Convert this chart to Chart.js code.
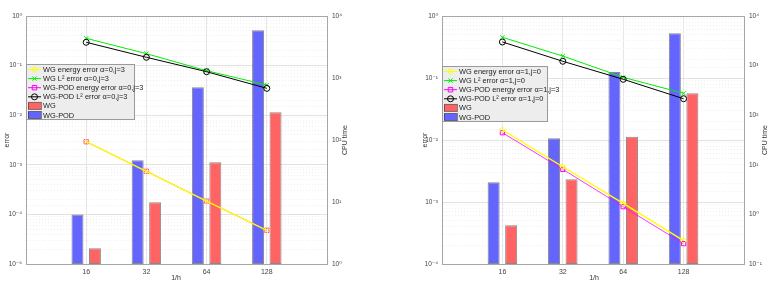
<!DOCTYPE html>
<html>
<head>
<meta charset="utf-8">
<script src="https://cdn.jsdelivr.net/npm/chart.js@4"></script>
<style>
  body { margin: 0; background: #fff; }
  #wrap { position: relative; width: 778px; height: 291px; }
  canvas { position: absolute; top: 0; }
</style>
</head>
<body>
<div id="wrap">
  <canvas id="c1" width="389" height="291" style="left:0"></canvas>
  <canvas id="c2" width="389" height="291" style="left:389px"></canvas>
</div>
<script>
// categories (1/h)
const xLabels = ['16', '32', '64', '128'];

// left panel, alpha=0
const a0WgEnergy = [0.00292, 0.00074, 0.000186, 0.0000478];
const a0WgL2 = [0.355, 0.174, 0.0789, 0.0406];
const a0PodEnergy = [0.00292, 0.00074, 0.000186, 0.0000478];
const a0PodL2 = [0.295, 0.147, 0.0753, 0.0348];
const a0CpuWg = [1.79, 9.9, 43.7, 280];
const a0CpuPod = [6.3, 47, 708, 5880];
const a0Labels = ['WG energy error \u03b1=0,j=3', 'WG L\u00b2 error \u03b1=0,j=3',
  'WG-POD energy error \u03b1=0,j=3', 'WG-POD L\u00b2 error \u03b1=0,j=3', 'WG', 'WG-POD'];

// right panel, alpha=1
const a1WgEnergy = [0.0145, 0.0037, 0.00095, 0.000238];
const a1WgL2 = [0.453, 0.226, 0.1026, 0.0566];
const a1PodEnergy = [0.0131, 0.00336, 0.00084, 0.000213];
const a1PodL2 = [0.381, 0.186, 0.0953, 0.0463];
const a1CpuWg = [0.603, 5.1, 36.9, 276];
const a1CpuPod = [4.44, 34.2, 743, 4477];
const a1Labels = ['WG energy error \u03b1=1,j=0', 'WG L\u00b2 error \u03b1=1,j=0',
  'WG-POD energy error \u03b1=1,j=3', 'WG-POD L\u00b2 error \u03b1=1,j=0', 'WG', 'WG-POD'];

const FONT = '"Liberation Sans", Arial, "DejaVu Sans", sans-serif';
const SUP = { '0': '\u2070', '1': '\u00b9', '2': '\u00b2', '3': '\u00b3', '4': '\u2074', '5': '\u2075', '-': '\u207b' };

const isDecade = v => Math.abs(Math.log10(v) - Math.round(Math.log10(v))) < 1e-6;
const decLabel = v => isDecade(v) ? '10' + String(Math.round(Math.log10(v))).split('').map(c => SUP[c]).join('') : '';
const pad = arr => [null, ...arr, null];

// draws marker shapes for the legend
function marker(ctx, style, x, y, r) {
  ctx.beginPath();
  if (style === 'rectRot') {
    ctx.moveTo(x, y - r); ctx.lineTo(x + r, y); ctx.lineTo(x, y + r); ctx.lineTo(x - r, y); ctx.closePath();
  } else if (style === 'crossRot') {
    const d = r * 0.7;
    ctx.moveTo(x - d, y - d); ctx.lineTo(x + d, y + d); ctx.moveTo(x + d, y - d); ctx.lineTo(x - d, y + d);
  } else if (style === 'rect') {
    const d = r * 0.75;
    ctx.rect(x - d, y - d, 2 * d, 2 * d);
  } else {
    ctx.arc(x, y, r, 0, Math.PI * 2);
  }
  ctx.stroke();
}

const mlPlugin = {
  id: 'mlDecor',
  afterDraw(chart, args, o) {
    const ctx = chart.ctx;
    const a = chart.chartArea;
    ctx.save();
    // frame
    ctx.strokeStyle = '#a6a6a6';
    ctx.lineWidth = 1;
    ctx.strokeRect(Math.round(a.left) + 0.5, Math.round(a.top) + 0.5, Math.round(a.right - a.left), Math.round(a.bottom - a.top));

    // axis titles
    ctx.fillStyle = '#333';
    ctx.font = '7px ' + FONT;
    ctx.textAlign = 'center';
    ctx.textBaseline = 'middle';
    ctx.fillText('1/h', o.xTitle[0], o.xTitle[1]);
    [[o.leftTitle, 'error'], [o.rightTitle, 'CPU time']].forEach(([p, t]) => {
      ctx.save();
      ctx.translate(p[0], p[1]);
      ctx.rotate(-Math.PI / 2);
      ctx.fillText(t, 0, 0);
      ctx.restore();
    });

    // legend box
    const L = o.legend;
    ctx.fillStyle = '#ededed';
    ctx.fillRect(L.x, L.y, L.w, L.h);
    ctx.strokeStyle = '#9a9a9a';
    ctx.strokeRect(L.x + 0.5, L.y + 0.5, L.w, L.h);
    ctx.textAlign = 'left';
    ctx.font = '7.4px ' + FONT;
    o.order.forEach((di, k) => {
      const ds = chart.data.datasets[di];
      const cy = L.y + 5.5 + k * 9.1;
      const x0 = L.x + 2, x1 = L.x + 15;
      if (ds.type === 'line') {
        ctx.strokeStyle = ds.borderColor;
        ctx.lineWidth = 1;
        ctx.beginPath(); ctx.moveTo(x0, cy); ctx.lineTo(x1, cy); ctx.stroke();
        marker(ctx, ds.pointStyle, (x0 + x1) / 2, cy, 3);
      } else {
        ctx.fillStyle = ds.backgroundColor;
        ctx.fillRect(x0, cy - 3.5, x1 - x0, 7);
        ctx.strokeStyle = ds.borderColor;
        ctx.strokeRect(x0 + 0.5, cy - 3.5, x1 - x0, 7);
      }
      ctx.fillStyle = '#222';
      ctx.fillText(ds.label, x1 + 2, cy + 0.5);
    });
    ctx.restore();
  }
};

function lineSet(label, data, color, style, order, width) {
  return {
    type: 'line', label, data: pad(data), yAxisID: 'y', order,
    borderColor: color, borderWidth: width || 1, backgroundColor: 'rgba(0,0,0,0)',
    pointStyle: style, pointRadius: 3, pointBorderWidth: 1,
    pointBorderColor: color, pointBackgroundColor: 'rgba(0,0,0,0)', spanGaps: false
  };
}

function barSet(label, data, fill, base) {
  return {
    type: 'bar', label, data: pad(data).map(v => v === null ? null : [base, v]), yAxisID: 'y2', order: 10,
    backgroundColor: fill, borderColor: 'rgba(40,40,40,0.55)', borderWidth: 1, borderSkipped: false,
    categoryPercentage: 0.58, barPercentage: 0.686
  };
}

function makeChart(id, d) {
  const datasets = [
    barSet(d.labels[5], d.cpuPod, 'rgb(100,100,255)', d.rMin),
    barSet(d.labels[4], d.cpuWg, 'rgb(255,100,100)', d.rMin),
    lineSet(d.labels[0], d.wgEnergy, '#ffff00', 'rectRot', 1, 1.4),
    lineSet(d.labels[1], d.wgL2, '#00ee00', 'crossRot', 4),
    lineSet(d.labels[2], d.podEnergy, '#ff00ff', 'rect', 2, 0.8),
    lineSet(d.labels[3], d.podL2, '#000000', 'circle', 3)
  ];

  const tickFont = { family: FONT, size: 6.5 };
  return new Chart(document.getElementById(id), {
    type: 'bar',
    data: { labels: pad(xLabels).map(v => v === null ? '' : v), datasets },
    options: {
      responsive: false,
      animation: false,
      layout: { padding: { top: 16, left: 0, right: 0, bottom: 0 } },
      plugins: {
        legend: { display: false },
        tooltip: { enabled: false },
        mlDecor: {
          legend: d.legend, order: [2, 3, 4, 5, 1, 0],
          xTitle: d.xTitle, leftTitle: d.leftTitle, rightTitle: d.rightTitle
        }
      },
      scales: {
        x: {
          offset: false,
          grid: { offset: false, color: '#e6e6e6', drawTicks: false },
          border: { color: '#a6a6a6' },
          ticks: { font: { family: FONT, size: 7 }, color: '#444', padding: 4, maxRotation: 0, autoSkip: false },
          afterFit: s => { s.height = 27; }
        },
        y: {
          type: 'logarithmic', position: 'left', min: d.lMin, max: 1,
          grid: { color: c => isDecade(c.tick.value) ? '#e2e2e2' : '#efefef', drawTicks: false },
          border: { color: '#a6a6a6', dash: c => (c.tick && !isDecade(c.tick.value)) ? [1, 2] : [] },
          ticks: { font: tickFont, color: '#444', padding: 4, autoSkip: false, callback: v => decLabel(v) },
          afterFit: s => { s.width = d.lw; }
        },
        y2: {
          type: 'logarithmic', position: 'right', min: d.rMin, max: 10000,
          grid: { drawOnChartArea: false, drawTicks: false },
          border: { color: '#a6a6a6' },
          ticks: { font: tickFont, color: '#444', padding: 5, autoSkip: false, callback: v => decLabel(v) },
          afterFit: s => { s.width = d.rw; }
        }
      }
    },
    plugins: [mlPlugin]
  });
}

makeChart('c1', {
  wgEnergy: a0WgEnergy, wgL2: a0WgL2, podEnergy: a0PodEnergy, podL2: a0PodL2,
  cpuWg: a0CpuWg, cpuPod: a0CpuPod, labels: a0Labels,
  lMin: 1e-5, rMin: 1, lw: 26, rw: 62,
  legend: { x: 26, y: 64, w: 108, h: 55 },
  xTitle: [176, 278], leftTitle: [7, 140], rightTitle: [345, 140]
});

makeChart('c2', {
  wgEnergy: a1WgEnergy, wgL2: a1WgL2, podEnergy: a1PodEnergy, podL2: a1PodL2,
  cpuWg: a1CpuWg, cpuPod: a1CpuPod, labels: a1Labels,
  lMin: 1e-4, rMin: 0.1, lw: 53, rw: 34,
  legend: { x: 53, y: 66, w: 105, h: 55 },
  xTitle: [205, 278], leftTitle: [36, 140], rightTitle: [376, 140]
});
</script>
</body>
</html>
